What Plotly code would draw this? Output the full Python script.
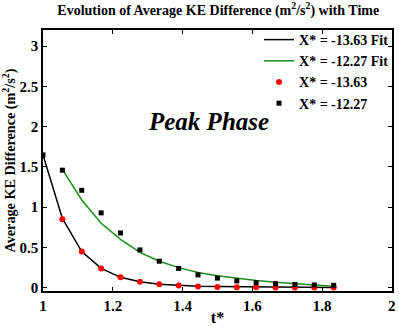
import plotly.graph_objects as go

t_fit_a = [1.0, 1.0556, 1.1111, 1.1667, 1.2222, 1.2778, 1.3333, 1.3889, 1.4444, 1.5, 1.5556, 1.6111, 1.6667, 1.7222, 1.7778, 1.8333]
fit_a = [1.65, 0.86, 0.45, 0.24, 0.13, 0.075, 0.045, 0.028, 0.02, 0.015, 0.012, 0.01, 0.008, 0.007, 0.006, 0.005]

t_fit_b = [1.0556, 1.1111, 1.1667, 1.2222, 1.2778, 1.3333, 1.3889, 1.4444, 1.5, 1.5556, 1.6111, 1.6667, 1.7222, 1.7778, 1.8333]
fit_b = [1.47, 1.09, 0.80, 0.60, 0.44, 0.33, 0.25, 0.19, 0.15, 0.12, 0.09, 0.07, 0.05, 0.035, 0.02]

t_a = [1.0556, 1.1111, 1.1667, 1.2222, 1.2778, 1.3333, 1.3889, 1.4444, 1.5, 1.5556, 1.6111, 1.6667, 1.7222, 1.7778, 1.8333]
val_a = [0.85, 0.45, 0.24, 0.13, 0.076, 0.043, 0.027, 0.015, 0.01, 0.008, 0.006, 0.005, 0.004, 0.003, 0.003]

t_b = [1.0, 1.0556, 1.1111, 1.1667, 1.2222, 1.2778, 1.3333, 1.3889, 1.4444, 1.5, 1.5556, 1.6111, 1.6667, 1.7222, 1.7778, 1.8333]
val_b = [1.65, 1.46, 1.21, 0.93, 0.68, 0.47, 0.33, 0.24, 0.16, 0.12, 0.085, 0.064, 0.05, 0.04, 0.035, 0.03]

x_ticks = [1, 1.2, 1.4, 1.6, 1.8, 2]
y_ticks = [0, 0.5, 1, 1.5, 2, 2.5, 3]

FONT = "'Liberation Serif', 'Times New Roman', Times, serif"

fig = go.Figure()
fig.add_trace(go.Scatter(x=t_fit_a, y=fit_a, mode="lines", name="X* = -13.63 Fit",
                         line=dict(color="black", width=1.5)))
fig.add_trace(go.Scatter(x=t_fit_b, y=fit_b, mode="lines", name="X* = -12.27 Fit",
                         line=dict(color="#1c8c1c", width=1.5)))
fig.add_trace(go.Scatter(x=t_a, y=val_a, mode="markers", name="X* = -13.63",
                         marker=dict(color="red", size=6, symbol="circle")))
fig.add_trace(go.Scatter(x=t_b, y=val_b, mode="markers", name="X* = -12.27",
                         marker=dict(color="black", size=5, symbol="square")))

fig.add_annotation(x=1.474, y=2.07, text="<b><i>Peak Phase</i></b>", showarrow=False,
                   font=dict(family=FONT, size=25, color="black"))

axis_common = dict(showline=True, linecolor="black", linewidth=1.5, mirror="ticks",
                   ticks="inside", ticklen=4, tickcolor="black", showgrid=False, zeroline=False,
                   automargin=False,
                   tickfont=dict(family=FONT, size=15, color="black"))

fig.update_layout(
    width=399, height=326,
    margin=dict(l=43, r=7, t=30, b=35, autoexpand=False),
    paper_bgcolor="white", plot_bgcolor="white",
    font=dict(family=FONT, color="black"),
    title=dict(text="<b>Evolution of Average KE Difference (m<sup>2</sup>/s<sup>2</sup>) with Time</b>",
               x=0.547, xanchor="center", y=0.985, yanchor="top",
               font=dict(family=FONT, size=14, color="black")),
    xaxis=dict(range=[1, 2.0005], tickvals=x_ticks, ticktext=["<b>%g</b>" % v for v in x_ticks],
               title=dict(text="<b>t*</b>", font=dict(family=FONT, size=16, color="black"), standoff=0),
               **axis_common),
    yaxis=dict(range=[-0.04, 3.2], tickvals=y_ticks, ticktext=["<b>%g</b>" % v for v in y_ticks],
               title=dict(text="<b>Average KE Difference (m<sup>2</sup>/s<sup>2</sup>)</b>",
                          font=dict(family=FONT, size=14.2, color="black"), standoff=2),
               **axis_common),
    legend=dict(x=0.619, y=1.023, xanchor="left", yanchor="top", bgcolor="rgba(0,0,0,0)",
                font=dict(family=FONT, size=14, color="black"), tracegroupgap=0,
                itemwidth=30),
    showlegend=True,
)
fig.for_each_trace(lambda tr: tr.update(name="<b>" + tr.name + "</b>"))

fig.write_html("out.html", config={"displayModeBar": False},
               post_script="document.body.style.margin='0';")
